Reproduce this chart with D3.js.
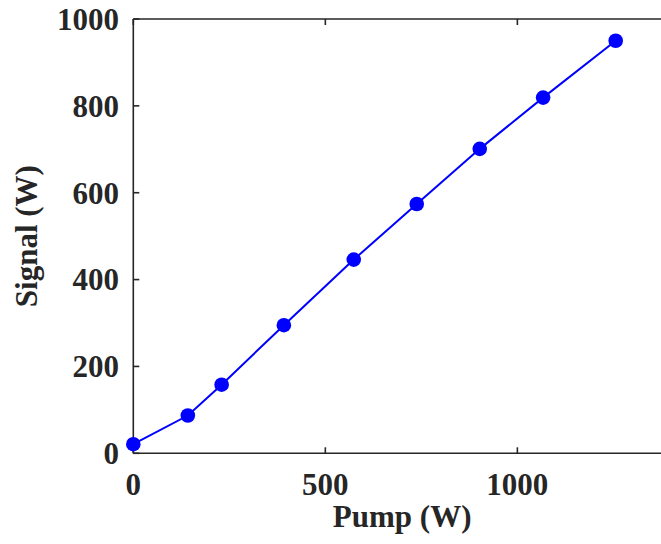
<!DOCTYPE html>
<html>
<head>
<meta charset="utf-8">
<script src="https://cdn.jsdelivr.net/npm/d3@7"></script>
<style>
  html, body { margin: 0; padding: 0; background: #fff; overflow: hidden; }
  text { font-family: "Liberation Serif", "Times New Roman", serif; font-weight: bold; fill: #262626; }
</style>
</head>
<body>
<svg id="chart" width="661" height="544"></svg>
<script>
const pump   = [0, 142, 230, 392, 574, 738, 902, 1067, 1256];
const signal = [21, 87, 158, 295, 446, 574, 701, 819, 950];
const xTicks = [0, 500, 1000];
const yTicks = [0, 200, 400, 600, 800, 1000];

(function () {
const svg = d3.select("#chart");
const pl = 133.3, pr = 671, pt = 19, pb = 453.3;
const x = d3.scaleLinear().domain([0, 1400]).range([pl, pr]);
const y = d3.scaleLinear().domain([0, 1000]).range([pb, pt]);
const axisColor = "#262626";
const fs = 31;

// box lines
const box = svg.append("g").attr("stroke", axisColor).attr("stroke-width", 1.6).attr("fill", "none");
box.append("line").attr("x1", pl).attr("x2", pr).attr("y1", pb).attr("y2", pb);
box.append("line").attr("x1", pl).attr("x2", pr).attr("y1", pt).attr("y2", pt);
box.append("line").attr("x1", pl).attr("x2", pl).attr("y1", pt).attr("y2", pb);
box.append("line").attr("x1", pr).attr("x2", pr).attr("y1", pt).attr("y2", pb);

// ticks (inward)
const tl = 6;
xTicks.forEach(t => {
  box.append("line").attr("x1", x(t)).attr("x2", x(t)).attr("y1", pb).attr("y2", pb - tl);
  box.append("line").attr("x1", x(t)).attr("x2", x(t)).attr("y1", pt).attr("y2", pt + tl);
});
yTicks.forEach(t => {
  box.append("line").attr("x1", pl).attr("x2", pl + tl).attr("y1", y(t)).attr("y2", y(t));
  box.append("line").attr("x1", pr).attr("x2", pr - tl).attr("y1", y(t)).attr("y2", y(t));
});

// tick labels
svg.append("g").selectAll("text").data(xTicks).join("text")
  .attr("x", d => x(d)).attr("y", 495)
  .attr("text-anchor", "middle").attr("font-size", fs)
  .text(d => d);
svg.append("g").selectAll("text").data(yTicks).join("text")
  .attr("x", 119).attr("y", d => y(d)).attr("dy", "0.35em")
  .attr("text-anchor", "end").attr("font-size", fs)
  .text(d => d);

// axis labels
svg.append("text").attr("x", (pl + pr) / 2).attr("y", 527)
  .attr("text-anchor", "middle").attr("font-size", fs).text("Pump (W)");
svg.append("text").attr("transform", `translate(37,${(pt + pb) / 2}) rotate(-90)`)
  .attr("text-anchor", "middle").attr("font-size", fs).text("Signal (W)");

// series
const data = pump.map((p, i) => ({ p, s: signal[i] }));
svg.append("path").datum(data)
  .attr("fill", "none").attr("stroke", "#0000ff").attr("stroke-width", 2)
  .attr("d", d3.line().x(d => x(d.p)).y(d => y(d.s)));
svg.append("g").selectAll("circle").data(data).join("circle")
  .attr("cx", d => x(d.p)).attr("cy", d => y(d.s)).attr("r", 7.3)
  .attr("fill", "#0000ff");
})();
</script>
</body>
</html>
